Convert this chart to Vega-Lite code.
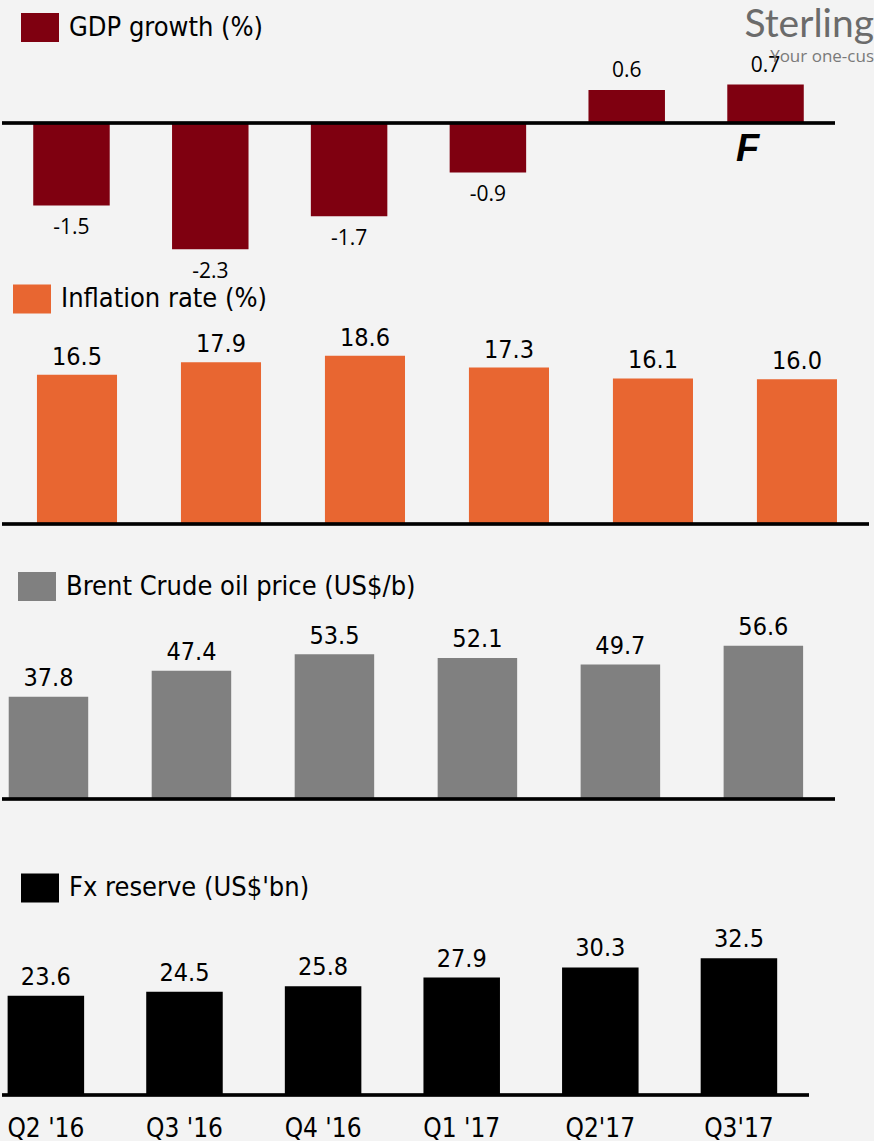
{
  "$schema": "https://vega.github.io/schema/vega-lite/v6.json",
  "padding": 0,
  "background": "#f3f3f3",
  "spacing": 0,
  "bounds": "flush",
  "config": {
    "view": {"stroke": null},
    "font": "DejaVu Sans Condensed",
    "legend": {
      "orient": "none",
      "title": null,
      "padding": 0,
      "symbolType": "M-1,-0.76H1V0.76H-1Z",
      "symbolSize": 1444,
      "symbolStrokeWidth": 0,
      "symbolOpacity": 1,
      "labelFont": "DejaVu Sans Condensed",
      "labelFontSize": 27,
      "labelColor": "#000000",
      "labelOffset": 10,
      "labelLimit": 0
    }
  },
  "resolve": {"scale": {"x": "independent", "y": "independent", "color": "independent"}, "legend": {"color": "independent"}},
  "datasets": {
    "econ": [
      {"q": "Q2 '16", "series": "GDP growth (%)", "v": -1.5, "flag": ""},
      {"q": "Q3 '16", "series": "GDP growth (%)", "v": -2.3, "flag": ""},
      {"q": "Q4 '16", "series": "GDP growth (%)", "v": -1.7, "flag": ""},
      {"q": "Q1 '17", "series": "GDP growth (%)", "v": -0.9, "flag": ""},
      {"q": "Q2'17", "series": "GDP growth (%)", "v": 0.6, "flag": ""},
      {"q": "Q3'17", "series": "GDP growth (%)", "v": 0.7, "flag": "F"},
      {"q": "Q2 '16", "series": "Inflation rate (%)", "v": 16.5, "flag": ""},
      {"q": "Q3 '16", "series": "Inflation rate (%)", "v": 17.9, "flag": ""},
      {"q": "Q4 '16", "series": "Inflation rate (%)", "v": 18.6, "flag": ""},
      {"q": "Q1 '17", "series": "Inflation rate (%)", "v": 17.3, "flag": ""},
      {"q": "Q2'17", "series": "Inflation rate (%)", "v": 16.1, "flag": ""},
      {"q": "Q3'17", "series": "Inflation rate (%)", "v": 16.0, "flag": ""},
      {"q": "Q2 '16", "series": "Brent Crude oil price (US$/b)", "v": 37.8, "flag": ""},
      {"q": "Q3 '16", "series": "Brent Crude oil price (US$/b)", "v": 47.4, "flag": ""},
      {"q": "Q4 '16", "series": "Brent Crude oil price (US$/b)", "v": 53.5, "flag": ""},
      {"q": "Q1 '17", "series": "Brent Crude oil price (US$/b)", "v": 52.1, "flag": ""},
      {"q": "Q2'17", "series": "Brent Crude oil price (US$/b)", "v": 49.7, "flag": ""},
      {"q": "Q3'17", "series": "Brent Crude oil price (US$/b)", "v": 56.6, "flag": ""},
      {"q": "Q2 '16", "series": "Fx reserve (US$'bn)", "v": 23.6, "flag": ""},
      {"q": "Q3 '16", "series": "Fx reserve (US$'bn)", "v": 24.5, "flag": ""},
      {"q": "Q4 '16", "series": "Fx reserve (US$'bn)", "v": 25.8, "flag": ""},
      {"q": "Q1 '17", "series": "Fx reserve (US$'bn)", "v": 27.9, "flag": ""},
      {"q": "Q2'17", "series": "Fx reserve (US$'bn)", "v": 30.3, "flag": ""},
      {"q": "Q3'17", "series": "Fx reserve (US$'bn)", "v": 32.5, "flag": ""}
    ]
  },
  "vconcat": [
    {
      "width": 833,
      "height": 285,
      "data": {"name": "econ"},
      "transform": [{"filter": "datum.series === 'GDP growth (%)'"}],
      "title": {
        "text": "Sterling",
        "subtitle": "Your one-cus",
        "anchor": "end",
        "frame": "group",
        "orient": "top",
        "offset": -65,
        "dx": 39,
        "font": "Lato",
        "fontSize": 39,
        "fontWeight": "normal",
        "color": "#6b6b6b",
        "subtitleFont": "Open Sans",
        "subtitleFontSize": 17,
        "subtitleColor": "#7a7a7a",
        "subtitlePadding": 4
      },
      "encoding": {
        "x": {"field": "q", "type": "nominal", "sort": null, "axis": null,
              "scale": {"paddingInner": 0.449, "paddingOuter": 0.225, "align": 0.5, "round": false}},
        "y": {"field": "v", "type": "quantitative", "axis": null,
              "scale": {"domain": [-2.95, 2.24], "nice": false, "zero": false}}
      },
      "layer": [
        {
          "mark": {"type": "bar"},
          "encoding": {
            "color": {"field": "series", "type": "nominal", "scale": {"range": ["#7f0010"]},
                      "legend": {"legendX": 19, "legendY": 8.5}}
          }
        },
        {
          "transform": [{"filter": "datum.v < 0"}],
          "mark": {"type": "text", "font": "Open Sans", "fontSize": 21, "dy": 23, "baseline": "middle", "color": "#000000"},
          "encoding": {"text": {"field": "v", "type": "nominal"}}
        },
        {
          "transform": [{"filter": "datum.v >= 0"}],
          "mark": {"type": "text", "font": "Open Sans", "fontSize": 21, "dy": -19, "baseline": "middle", "color": "#000000"},
          "encoding": {"text": {"field": "v", "type": "nominal"}}
        },
        {
          "transform": [{"filter": "datum.flag === 'F'"}],
          "mark": {"type": "text", "font": "Liberation Sans", "fontSize": 38, "fontWeight": "bold", "fontStyle": "italic", "dy": 27, "dx": -18, "baseline": "middle", "color": "#000000"},
          "encoding": {"y": {"datum": 0}, "text": {"field": "flag", "type": "nominal"}}
        },
        {
          "mark": {"type": "rule", "color": "#000000", "strokeWidth": 2.5},
          "encoding": {"x": null, "y": {"datum": 0}}
        }
      ]
    },
    {
      "width": 867,
      "height": 239,
      "data": {"name": "econ"},
      "transform": [{"filter": "datum.series === 'Inflation rate (%)'"}],
      "encoding": {
        "x": {"field": "q", "type": "nominal", "sort": null, "axis": null,
              "scale": {"paddingInner": 0.444, "paddingOuter": 0.2326, "align": 0.522, "round": false}},
        "y": {"field": "v", "type": "quantitative", "axis": null,
              "scale": {"domain": [0, 26.44], "nice": false}}
      },
      "layer": [
        {
          "mark": {"type": "bar"},
          "encoding": {
            "color": {"field": "series", "type": "nominal", "scale": {"range": ["#e86631"]},
                      "legend": {"legendX": 11, "legendY": -5}}
          }
        },
        {
          "mark": {"type": "text", "fontSize": 25, "dy": -18, "baseline": "middle", "color": "#000000"},
          "encoding": {"text": {"field": "v", "type": "quantitative", "format": ".1f"}}
        },
        {
          "mark": {"type": "rule", "color": "#000000", "strokeWidth": 2.5},
          "encoding": {"x": null, "y": {"datum": 0}}
        }
      ]
    },
    {
      "width": 833,
      "height": 275,
      "data": {"name": "econ"},
      "transform": [{"filter": "datum.series === 'Brent Crude oil price (US$/b)'"}],
      "encoding": {
        "x": {"field": "q", "type": "nominal", "sort": null, "axis": null,
              "scale": {"paddingInner": 0.444, "paddingOuter": 0.135, "align": 0.174, "round": false}},
        "y": {"field": "v", "type": "quantitative", "axis": null,
              "scale": {"domain": [0, 101.6], "nice": false}}
      },
      "layer": [
        {
          "mark": {"type": "bar"},
          "encoding": {
            "color": {"field": "series", "type": "nominal", "scale": {"range": ["#808080"]},
                      "legend": {"legendX": 16, "legendY": 43.5}}
          }
        },
        {
          "mark": {"type": "text", "fontSize": 25, "dy": -18.5, "baseline": "middle", "color": "#000000"},
          "encoding": {"text": {"field": "v", "type": "quantitative", "format": ".1f"}}
        },
        {
          "mark": {"type": "rule", "color": "#000000", "strokeWidth": 2.5},
          "encoding": {"x": null, "y": {"datum": 0}}
        }
      ]
    },
    {
      "width": 807,
      "height": 296,
      "data": {"name": "econ"},
      "transform": [{"filter": "datum.series === \"Fx reserve (US$'bn)\""}],
      "encoding": {
        "x": {"field": "q", "type": "nominal", "sort": null,
              "scale": {"paddingInner": 0.448, "paddingOuter": 0.135, "align": 0.15, "round": false},
              "axis": {"orient": "bottom", "title": null, "domain": false, "ticks": false, "labelAngle": 0,
                       "labelFont": "DejaVu Sans Condensed", "labelFontSize": 26, "labelColor": "#000000",
                       "labelPadding": 20}},
        "y": {"field": "v", "type": "quantitative", "axis": null,
              "scale": {"domain": [0, 70.3], "nice": false}}
      },
      "layer": [
        {
          "mark": {"type": "bar"},
          "encoding": {
            "color": {"field": "series", "type": "nominal", "scale": {"range": ["#000000"]},
                      "legend": {"legendX": 19, "legendY": 70}}
          }
        },
        {
          "mark": {"type": "text", "fontSize": 25, "dy": -19, "baseline": "middle", "color": "#000000"},
          "encoding": {"text": {"field": "v", "type": "quantitative", "format": ".1f"}}
        },
        {
          "mark": {"type": "rule", "color": "#000000", "strokeWidth": 2.5},
          "encoding": {"x": null, "y": {"datum": 0}}
        }
      ]
    }
  ]
}
